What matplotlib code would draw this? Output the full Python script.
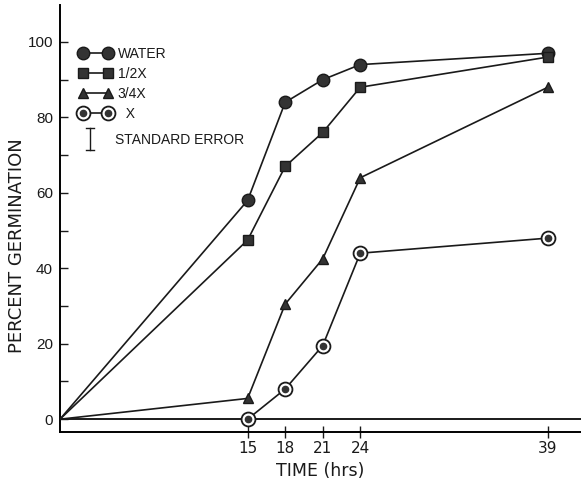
import matplotlib
matplotlib.use("Agg")
import matplotlib.pyplot as plt
from matplotlib.legend_handler import HandlerTuple
from matplotlib.lines import Line2D

# ---- data ----
hours = [0, 15, 18, 21, 24, 39]
water = [0, 58, 84, 90, 94, 97]
half_x = [0, 47.5, 67, 76, 88, 96]
three_q_x = [0, 5.5, 30.5, 42.5, 64, 88]
full_x_hours = [15, 18, 21, 24, 39]
full_x = [0, 8, 19.5, 44, 48]

x_ticks = [15, 18, 21, 24, 39]
y_major = [0, 20, 40, 60, 80, 100]
y_minor = [10, 30, 50, 70, 90]

W, H = 581, 484
fig = plt.figure(figsize=(W / 100, H / 100), dpi=100)
left, right, top, bottom = 60, 581, 5, 432
ax = fig.add_axes([left / W, (H - bottom) / H, (right - left) / W, (bottom - top) / H])

ink = "#1a1a1a"
fill = "#333333"
lw = 1.2

ax.plot(hours, water, color=ink, lw=lw, marker="o", ms=9, mfc=fill, mec=ink,
        markevery=slice(1, None), zorder=3)
ax.plot(hours, half_x, color=ink, lw=lw, marker="s", ms=6.5, mfc=fill, mec=ink,
        markevery=slice(1, None), zorder=3)
ax.plot(hours, three_q_x, color=ink, lw=lw, marker="^", ms=7, mfc=fill, mec=ink,
        markevery=slice(1, None), zorder=3)
ax.plot(full_x_hours, full_x, color=ink, lw=lw, marker="o", ms=10, mfc="white", mec=ink, mew=1.3, zorder=3)
ax.plot(full_x_hours, full_x, ls="none", marker="o", ms=4.5, mfc=fill, mec=fill, zorder=4)

ax.axhline(0, color=ink, lw=1.4, zorder=1)

ax.set_xlim(0, (right - left) / 12.51)
ax.set_ylim(-3.4, 109.8)

for s in ["top", "right"]:
    ax.spines[s].set_visible(False)
ax.spines["left"].set_linewidth(1.4)
ax.spines["bottom"].set_linewidth(1.4)

ax.set_xticks(x_ticks)
ax.set_xticklabels([str(v) for v in x_ticks], fontsize=11, family="DejaVu Sans")
ax.tick_params(axis="x", direction="inout", length=9, width=1.0, pad=2, colors=ink)
ax.set_yticks(y_major)
ax.set_yticks(y_minor, minor=True)
ax.set_yticklabels([str(v) for v in y_major], fontsize=11, family="Liberation Sans")
ax.tick_params(axis="y", which="both", direction="in", length=6, width=1.0, pad=5, colors=ink)

ax.set_xlabel("TIME (hrs)", fontsize=12.5, family="DejaVu Sans", color=ink, labelpad=4)
ax.set_ylabel("PERCENT GERMINATION", fontsize=13, family="DejaVu Sans", color=ink)
ax.yaxis.set_label_coords(-0.066, 0.436)

# ---- legend ----
h_w = Line2D([], [], color=ink, lw=lw, marker="o", ms=9, mfc=fill, mec=ink)
h_h = Line2D([], [], color=ink, lw=lw, marker="s", ms=6.5, mfc=fill, mec=ink)
h_t = Line2D([], [], color=ink, lw=lw, marker="^", ms=7, mfc=fill, mec=ink)
h_x1 = Line2D([], [], color=ink, lw=lw, marker="o", ms=10, mfc="white", mec=ink, mew=1.3)
h_x2 = Line2D([], [], ls="none", marker="o", ms=4.5, mfc=fill, mec=fill)
leg = ax.legend([h_w, h_h, h_t, (h_x1, h_x2)], ["WATER", "1/2X", "3/4X", "  X"],
                handler_map={tuple: HandlerTuple(ndivide=1)},
                numpoints=2, frameon=False, loc="upper left",
                bbox_to_anchor=(0.0365, 0.901), borderaxespad=0, borderpad=0,
                handlelength=2.4, handletextpad=0.4, labelspacing=0.42,
                prop={"family": "Liberation Sans", "size": 10})
for t in leg.get_texts():
    t.set_color(ink)

# standard error glyph
tr = ax.transAxes
ex = (90 - left) / (right - left)
y1 = (bottom - 128) / (bottom - top)
y2 = (bottom - 150) / (bottom - top)
cw = 4 / (right - left)
ax.plot([ex, ex], [y1, y2], color=ink, lw=1.0, transform=tr, clip_on=False)
ax.plot([ex - cw, ex + cw], [y1, y1], color=ink, lw=1.0, transform=tr, clip_on=False)
ax.plot([ex - cw, ex + cw], [y2, y2], color=ink, lw=1.0, transform=tr, clip_on=False)
ax.text((115 - left) / (right - left), (bottom - 140) / (bottom - top), "STANDARD ERROR",
        transform=tr, fontsize=10, family="Liberation Sans", color=ink, va="center", ha="left")

fig.savefig("out.png", dpi=100)
